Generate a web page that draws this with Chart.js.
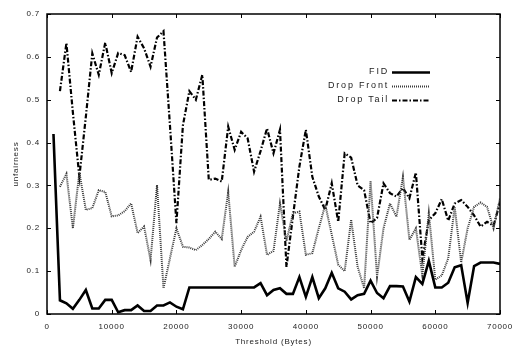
<!DOCTYPE html>
<html>
<head>
<meta charset="utf-8">
<script src="https://cdn.jsdelivr.net/npm/chart.js@4.4.0/dist/chart.umd.min.js"></script>
<style>
  html, body { margin: 0; padding: 0; background: #fff; }
  #wrap { width: 520px; height: 349px; position: relative; }
</style>
</head>
<body>
<div id="wrap"><canvas id="chart"></canvas></div>
<script>
// --- Datos: umbral (bytes) y unfairness de cada política ---
const thresholds = [1000, 2000, 3000, 4000, 5000, 6000, 7000, 8000, 9000, 10000,
    11000, 12000, 13000, 14000, 15000, 16000, 17000, 18000, 19000, 20000,
    21000, 22000, 23000, 24000, 25000, 26000, 27000, 28000, 29000, 30000,
    31000, 32000, 33000, 34000, 35000, 36000, 37000, 38000, 39000, 40000,
    41000, 42000, 43000, 44000, 45000, 46000, 47000, 48000, 49000, 50000,
    51000, 52000, 53000, 54000, 55000, 56000, 57000, 58000, 59000, 60000,
    61000, 62000, 63000, 64000, 65000, 66000, 67000, 68000, 69000, 70000];

const seriesNames = ["FID", "Drop Front", "Drop Tail"];

// FID: de 1000 a 70000
const fidValues = [0.42, 0.032, 0.025, 0.012, 0.033, 0.056, 0.013, 0.013, 0.033, 0.033,
    0.004, 0.009, 0.009, 0.02, 0.007, 0.007, 0.02, 0.02, 0.027, 0.017,
    0.011, 0.062, 0.062, 0.062, 0.062, 0.062, 0.062, 0.062, 0.062, 0.062,
    0.062, 0.062, 0.072, 0.044, 0.056, 0.06, 0.047, 0.047, 0.086, 0.04,
    0.086, 0.037, 0.06, 0.096, 0.06, 0.052, 0.034, 0.044, 0.047, 0.078,
    0.049, 0.037, 0.065, 0.065, 0.064, 0.029, 0.086, 0.07, 0.124, 0.062,
    0.062, 0.073, 0.109, 0.114, 0.026, 0.112, 0.12, 0.12, 0.12, 0.117];

// Drop Front: de 2000 a 70000
const dropFrontValues = [0.297, 0.327, 0.2, 0.33, 0.243, 0.247, 0.289, 0.285, 0.228,
    0.23, 0.24, 0.258, 0.189, 0.204, 0.126, 0.301, 0.06, 0.13, 0.2,
    0.157, 0.155, 0.149, 0.161, 0.175, 0.192, 0.175, 0.285, 0.11, 0.149,
    0.18, 0.192, 0.227, 0.138, 0.147, 0.258, 0.17, 0.235, 0.239, 0.138,
    0.142, 0.2, 0.255, 0.185, 0.115, 0.1, 0.22, 0.11, 0.06, 0.31,
    0.087, 0.2, 0.258, 0.227, 0.32, 0.173, 0.2, 0.09, 0.235, 0.08,
    0.09, 0.13, 0.25, 0.12, 0.2, 0.25, 0.26, 0.25, 0.2, 0.27];

// Drop Tail: de 2000 a 70000
const dropTailValues = [0.52, 0.632, 0.47, 0.32, 0.46, 0.608, 0.558, 0.633, 0.562,
    0.609, 0.604, 0.565, 0.647, 0.62, 0.577, 0.645, 0.66, 0.44, 0.212,
    0.44, 0.52, 0.5, 0.558, 0.313, 0.316, 0.309, 0.437, 0.383, 0.425,
    0.41, 0.332, 0.38, 0.433, 0.375, 0.43, 0.11, 0.227, 0.344, 0.43,
    0.32, 0.274, 0.243, 0.305, 0.215, 0.375, 0.365, 0.3, 0.289, 0.212,
    0.224, 0.305, 0.282, 0.274, 0.294, 0.27, 0.33, 0.13, 0.219, 0.235,
    0.268, 0.218, 0.258, 0.266, 0.25, 0.23, 0.204, 0.215, 0.206, 0.26];

const xTicks = [0, 10000, 20000, 30000, 40000, 50000, 60000, 70000];
const yTicks = [0, 0.1, 0.2, 0.3, 0.4, 0.5, 0.6, 0.7];

const FONT = "'Liberation Sans', Arial, sans-serif";
const TEXT = '#222';

function toPoints(xs, ys) {
    return ys.map((y, i) => ({ x: xs[i], y: y }));
}

// Marco con marcas hacia adentro en los cuatro lados
const framePlugin = {
    id: 'frame',
    beforeDraw(chart) {
        chart.ctx.letterSpacing = '0.8px';
    },
    afterDatasetsDraw(chart) {
        const { ctx, chartArea: a, scales } = chart;
        ctx.save();
        ctx.strokeStyle = '#000';
        ctx.lineWidth = 1.5;
        ctx.strokeRect(a.left, a.top, a.right - a.left, a.bottom - a.top);
        ctx.lineWidth = 1;
        ctx.beginPath();
        xTicks.forEach(v => {
            const px = Math.round(scales.x.getPixelForValue(v)) + 0.5;
            ctx.moveTo(px, a.bottom); ctx.lineTo(px, a.bottom - 4);
            ctx.moveTo(px, a.top); ctx.lineTo(px, a.top + 4);
        });
        yTicks.forEach(v => {
            const py = Math.round(scales.y.getPixelForValue(v)) + 0.5;
            ctx.moveTo(a.left, py); ctx.lineTo(a.left + 4, py);
            ctx.moveTo(a.right, py); ctx.lineTo(a.right - 4, py);
        });
        ctx.stroke();
        ctx.restore();
    }
};

// Leyenda estilo gnuplot: texto alineado a la derecha y muestra de línea
const legendPlugin = {
    id: 'gnuLegend',
    afterDraw(chart) {
        const ctx = chart.ctx;
        ctx.save();
        ctx.font = '9px ' + FONT;
        ctx.letterSpacing = '1.8px';
        ctx.fillStyle = TEXT;
        ctx.textAlign = 'right';
        ctx.textBaseline = 'middle';
        chart.data.datasets.forEach((ds, i) => {
            const y = 72 + i * 14;
            ctx.fillText(ds.label, 389, y);
            ctx.beginPath();
            ctx.strokeStyle = ds.borderColor;
            ctx.lineWidth = ds.borderWidth;
            ctx.setLineDash(ds.borderDash || []);
            ctx.moveTo(392, y + 0.5);
            ctx.lineTo(430, y + 0.5);
            ctx.stroke();
        });
        ctx.restore();
    }
};

new Chart(document.getElementById('chart'), {
    type: 'line',
    data: {
        datasets: [
            { label: seriesNames[0], data: toPoints(thresholds, fidValues),
              borderColor: '#000', borderWidth: 2.6 },
            { label: seriesNames[1], data: toPoints(thresholds.slice(1), dropFrontValues),
              borderColor: '#3a3a3a', borderWidth: 2, borderDash: [1, 1] },
            { label: seriesNames[2], data: toPoints(thresholds.slice(1), dropTailValues),
              borderColor: '#000', borderWidth: 2.2, borderDash: [5, 2, 1.5, 2] }
        ]
    },
    options: {
        responsive: true,
        maintainAspectRatio: false,
        animation: false,
        layout: { padding: { left: 0, top: 14, right: 20, bottom: 0 } },
        elements: { point: { radius: 0 }, line: { tension: 0 } },
        plugins: { legend: { display: false }, tooltip: { enabled: false } },
        scales: {
            x: {
                type: 'linear', min: 0, max: 70000,
                afterBuildTicks: s => { s.ticks = xTicks.map(v => ({ value: v })); },
                ticks: { callback: v => String(v), font: { family: FONT, size: 8 }, color: TEXT, padding: 8, maxRotation: 0 },
                grid: { display: false, drawTicks: false },
                border: { display: false },
                title: { display: true, text: 'Threshold (Bytes)', font: { family: FONT, size: 8 }, color: TEXT, padding: { top: 0, bottom: 2 } },
                afterFit: s => { s.height = 35; }
            },
            y: {
                min: 0, max: 0.7,
                afterBuildTicks: s => { s.ticks = yTicks.map(v => ({ value: v })); },
                ticks: { callback: v => String(+v.toFixed(1)), font: { family: FONT, size: 8 }, color: TEXT, padding: 7 },
                grid: { display: false, drawTicks: false },
                border: { display: false },
                title: { display: true, text: 'unfairness', font: { family: FONT, size: 8 }, color: TEXT, padding: { top: 11, bottom: 0 } },
                afterFit: s => { s.width = 47; }
            }
        }
    },
    plugins: [framePlugin, legendPlugin]
});
</script>
</body>
</html>
